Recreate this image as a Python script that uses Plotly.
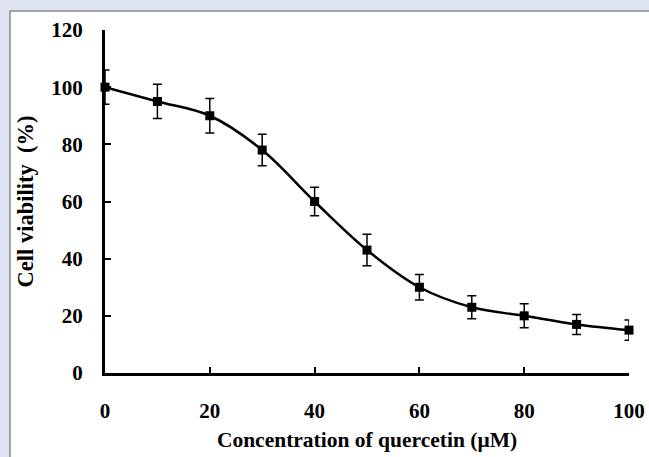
import plotly.graph_objects as go

conc = [0, 10, 20, 30, 40, 50, 60, 70, 80, 90, 100]
viability = [100, 95, 90, 78, 60, 43, 30, 23, 20, 17, 15]
err = [6, 6, 6, 5.5, 5, 5.5, 4.5, 4, 4.2, 3.5, 3.5]
x_ticks = [0, 20, 40, 60, 80, 100]
y_ticks = [0, 20, 40, 60, 80, 100, 120]

FONT = "Liberation Serif"

fig = go.Figure()
fig.add_trace(go.Scatter(
    x=conc, y=viability,
    mode="lines+markers",
    line=dict(color="black", width=2.5, shape="spline", smoothing=1.0),
    marker=dict(symbol="square", size=9, color="black"),
    error_y=dict(type="data", array=err, visible=True, color="black", thickness=1.5, width=4.5),
    cliponaxis=False,
    showlegend=False,
))

fig.add_shape(type="rect", xref="paper", yref="paper",
              x0=-0.1813, x1=1.2, y0=-0.3, y1=1.0554,
              fillcolor="white", line=dict(color="#8c8c8c", width=1.5), layer="below")

fig.update_layout(
    width=649, height=457,
    margin=dict(l=105, r=20, t=30, b=84, autoexpand=False),
    paper_bgcolor="#e0e4f2",
    plot_bgcolor="white",
    font=dict(family=FONT, color="black"),
)
fig.update_xaxes(
    range=[0, 100], tickvals=x_ticks, ticktext=[str(v) for v in x_ticks],
    showline=True, linecolor="black", linewidth=3,
    ticks="inside", ticklen=6, tickwidth=2, tickcolor="black",
    showgrid=False, zeroline=False, automargin=False,
    tickfont=dict(family=FONT, size=21, weight="bold", color="black"),
    ticklabelstandoff=17,
    title=dict(text="Concentration of quercetin (μM)", standoff=10,
               font=dict(family=FONT, size=21.5, weight="bold", color="black")),
)
fig.update_yaxes(
    range=[0, 120], tickvals=y_ticks, ticktext=[str(v) for v in y_ticks],
    showline=True, linecolor="black", linewidth=3,
    ticks="inside", ticklen=6, tickwidth=2, tickcolor="black",
    showgrid=False, zeroline=False, automargin=False,
    tickfont=dict(family=FONT, size=21, weight="bold", color="black"),
    ticklabelstandoff=15,
    title=dict(text="Cell viability  (%)", standoff=12,
               font=dict(family=FONT, size=22.5, weight="bold", color="black")),
)

fig.write_html("out.html", config={"displayModeBar": False},
               post_script="document.body.style.margin='0';document.body.style.padding='0';")
